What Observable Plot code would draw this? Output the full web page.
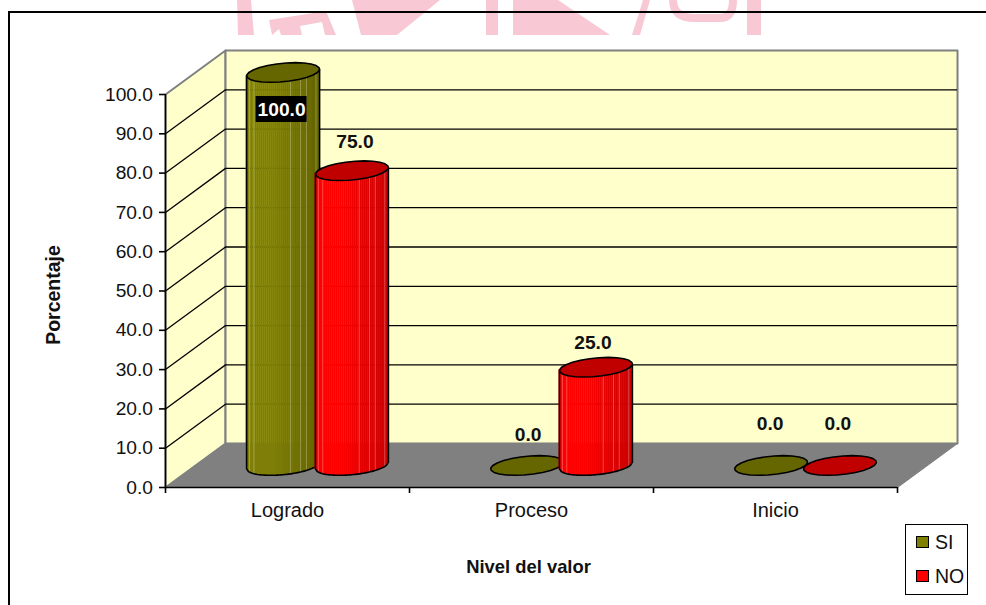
<!DOCTYPE html>
<html>
<head>
<meta charset="utf-8">
<script src="https://cdn.jsdelivr.net/npm/d3@7"></script>
<script src="https://cdn.jsdelivr.net/npm/@observablehq/plot@0.6"></script>
<style>
  html, body { margin: 0; padding: 0; background: #fff; overflow: hidden; }
  #wrap { position: relative; width: 986px; height: 605px; font-family: "Liberation Sans", Arial, sans-serif; }
  #wm, #frame, #chart, #legend { position: absolute; }
  #wm { left: 0; top: 0; }
  #frame { left: 8px; top: 11px; width: 978px; height: 594px; border-left: 2px solid #000; border-top: 2px solid #000; box-sizing: border-box; }
  #chart { left: 0; top: 0; }
  #legend { left: 905px; top: 524px; width: 63px; height: 71px; box-sizing: border-box; border: 1.5px solid #000; background: #fff; font-size: 19.5px; color: #111; }
  .sw { position: absolute; left: 10px; width: 13px; height: 12px; box-sizing: border-box; border: 1px solid #000; }
  .lb { position: absolute; left: 29px; line-height: 18px; }
</style>
</head>
<body>
<div id="wrap">
  <svg id="wm" width="986" height="35" viewBox="0 0 986 35">
    <g fill="#f8c9d5">
      <polygon points="237,0 251,0 254,35 238,35"/>
      <polygon points="269,20 326,11 336,35 325,35 322,22 300,26 302,35 281,35 279,29 272,35"/>
      <polygon points="352,0 440,0 397,35 361,35"/>
      <rect x="486" y="0" width="12" height="35"/>
      <polygon points="513,0 558,0 610,35 513,35"/>
      <polygon points="643,0 650,0 640,35 632,35"/>
      <rect x="747" y="0" width="14" height="35"/>
    </g>
    <path d="M673,0 Q673,18 695,18 L720,18 Q733,18 733,0" fill="none" stroke="#f8c9d5" stroke-width="8"/>
  </svg>
  <div id="frame"></div>
  <div id="chart"></div>
  <div id="legend">
    <div class="sw" style="top:11px;background:#808000"></div><div class="lb" style="top:8px">SI</div>
    <div class="sw" style="top:45px;background:#ff0000"></div><div class="lb" style="top:42px">NO</div>
  </div>
</div>
<script>
// ---- data ----
const categories = ["Logrado", "Proceso", "Inicio"];
const seriesNames = ["SI", "NO"];
const valuesSI = [100.0, 0.0, 0.0];
const valuesNO = [75.0, 25.0, 0.0];
const yTicks = [0, 10, 20, 30, 40, 50, 60, 70, 80, 90, 100];
const gridValues = [10, 20, 30, 40, 50, 60, 70, 80, 90];

// ---- appearance (not data) ----
const palette = {
  SI: {bright: "#808000", dark: "#666600", top: "#666600"},
  NO: {bright: "#ff0000", dark: "#cc0000", top: "#c00000"}
};
const wallFill = "#ffffcc", floorFill = "#808080", edge = "#808080";
const font = "Liberation Sans";
const depth = {x: 0.246, y: 11.2};            // oblique depth in data units
const seriesOffset = {SI: -0.141, NO: 0.141}; // cylinder offset from category centre
const radius = {x: 0.1405, kx: 0.051, ky: 2.5};// tilted ellipse of a cylinder's cap
const highlights = [0.04, 0.1, 0.6, 0.74, 0.82, 0.95];
const labelNudge = {SI: [40, -31, -42], NO: [-29, -24, -42]};
const labelShift = {SI: [-2, 1, -1], NO: [3, -3, -2]};

const rows = categories.flatMap((c, i) => [
  {cat: c, i, s: "SI", v: valuesSI[i]},
  {cat: c, i, s: "NO", v: valuesNO[i]}
]).map(d => ({...d, cx: d.i + 0.5 + seriesOffset[d.s] + depth.x / 2, by: depth.y / 2}));

const R = Math.hypot(radius.x, radius.kx), phi = Math.atan2(radius.kx, radius.x);
const ex = (d, t) => d.cx + radius.x * Math.cos(t) + radius.kx * Math.sin(t);
const ey = (d, t) => d.by + radius.ky * Math.sin(t);
const tFromF = f => phi - Math.acos(2 * f - 1);

function poly(pts, o) {
  return Plot.line([...pts, pts[0]], {x: "0", y: "1", ...o});
}

function ellipse(d) {
  const pts = d3.range(0, 25).map(k => {
    const t = k / 24 * 2 * Math.PI;
    return [ex(d, t), ey(d, t) + d.v];
  });
  return Plot.line(pts, {x: "0", y: "1", fill: palette[d.s].top, stroke: "#000", strokeWidth: 1.6, strokeLinejoin: "round"});
}

function cylinder(d) {
  const out = [];
  if (d.v > 0) {
    const n = 36, col = d3.interpolateRgb(palette[d.s].bright, palette[d.s].dark);
    const bands = d3.range(n).flatMap(k => {
      const q = Math.floor(k / n * 12) / 11;
      const c = col(Math.max(0, (q - 0.35) / 0.65));
      return [k, k + 1].map(m => {
        const t = tFromF(m / n);
        return {band: k, c, x: ex(d, t), y1: ey(d, t), y2: ey(d, t) + d.v};
      });
    });
    out.push(Plot.areaY(bands, {x: "x", y1: "y1", y2: "y2", z: "band",
      fill: {value: "c", scale: null}, stroke: {value: "c", scale: null}, strokeWidth: 0.6}));
    const hl = highlights.map(f => {
      const t = tFromF(f);
      return {x: ex(d, t), y1: ey(d, t), y2: ey(d, t) + d.v};
    });
    out.push(Plot.link(hl, {x1: "x", x2: "x", y1: "y1", y2: "y2", stroke: "#fff", strokeOpacity: 0.28, strokeWidth: 1}));
    const lower = d3.range(0, 41).map(k => {
      const t = tFromF(k / 40);
      return [ex(d, t), ey(d, t)];
    });
    const outline = [[lower[0][0], lower[0][1] + d.v], ...lower, [lower[40][0], lower[40][1] + d.v]];
    out.push(Plot.line(outline, {x: "0", y: "1", stroke: "#000", strokeWidth: 1.6, strokeLinejoin: "round"}));
  }
  out.push(ellipse(d));
  return out;
}

const dx = depth.x, dy = depth.y;
const labels = rows.map(d => ({
  ...d,
  text: d.v.toFixed(1),
  px: d.cx,
  py: d.by + d.v,
  ddx: labelShift[d.s][d.i],
  ddy: labelNudge[d.s][d.i]
}));
const boxed = labels.filter(d => d.ddy > 0);
const plain = labels.filter(d => d.ddy <= 0);

const plot = Plot.plot({
  width: 986, height: 605,
  marginLeft: 165, marginRight: 89, marginTop: 94, marginBottom: 118,
  x: {domain: [0, 3], axis: null},
  y: {domain: [0, 100], axis: null},
  style: {background: "transparent", fontFamily: font, color: "#111", overflow: "visible"},
  marks: [
    // walls and floor
    poly([[0, 0], [dx, dy], [dx, 100 + dy], [0, 100]], {fill: wallFill, stroke: edge, strokeWidth: 2}),
    poly([[dx, dy], [3 + dx, dy], [3 + dx, 100 + dy], [dx, 100 + dy]], {fill: wallFill, stroke: edge, strokeWidth: 2}),
    Plot.ruleY(gridValues, {y: v => v + dy, x1: () => dx, x2: () => 3 + dx, stroke: "#000", strokeWidth: 1.3}),
    Plot.link(gridValues, {x1: () => 0, y1: v => v, x2: () => dx, y2: v => v + dy, stroke: "#000", strokeWidth: 1.3}),
    poly([[0, 0], [3, 0], [3 + dx, dy], [dx, dy]], {fill: floorFill, stroke: edge, strokeWidth: 1}),
    // axes
    Plot.ruleX([0], {y1: () => 0, y2: () => 100, stroke: "#000", strokeWidth: 1.6}),
    Plot.ruleY([0], {x1: () => 0, x2: () => 3, stroke: "#000", strokeWidth: 1.6}),
    Plot.axisY({ticks: yTicks, tickSize: 6, tickPadding: 6.5, tickFormat: d3.format(".1f"), label: null,
      fontSize: 19.2, stroke: "#000", strokeOpacity: 1, strokeWidth: 1.6, fill: "#111"}),
    Plot.axisX({ticks: [0, 1, 2, 3], tickSize: 6, tickFormat: () => "", label: null, stroke: "#000", strokeOpacity: 1, strokeWidth: 1.6}),
    Plot.axisX({ticks: [0.5, 1.5, 2.5], tickSize: 0, tickPadding: 15.5, tickFormat: v => categories[Math.floor(v)], label: null, fontSize: 20, fill: "#111"}),
    // cylinders
    ...rows.flatMap(cylinder),
    // value labels
    Plot.rect(boxed, {x1: "px", x2: "px", y1: "py", y2: "py", dx: -1.5, dy: 37, insetLeft: -25.5, insetRight: -25.5, insetTop: -13, insetBottom: -13, fill: "#000"}),
    Plot.text(boxed, {x: "px", y: "py", text: "text", dx: -1.5, dy: 37.5, fill: "#fff", fontWeight: "bold", fontSize: 19.2}),
    ...plain.map(d => Plot.text([d], {x: "px", y: "py", text: "text", dx: d.ddx, dy: d.ddy, fill: "#111", fontWeight: "bold", fontSize: 19.2})),
    // axis titles
    Plot.text(["Nivel del valor"], {frameAnchor: "bottom", dx: -3, dy: 80, text: d => d, fontWeight: "bold", fontSize: 18.4, fill: "#111", lineAnchor: "middle"}),
    Plot.text(["Porcentaje"], {frameAnchor: "left", dx: -112, dy: 4, text: d => d, rotate: -90, fontWeight: "bold", fontSize: 19.5, fill: "#111", textAnchor: "middle"})
  ]
});
document.getElementById("chart").appendChild(plot);
</script>
</body>
</html>
